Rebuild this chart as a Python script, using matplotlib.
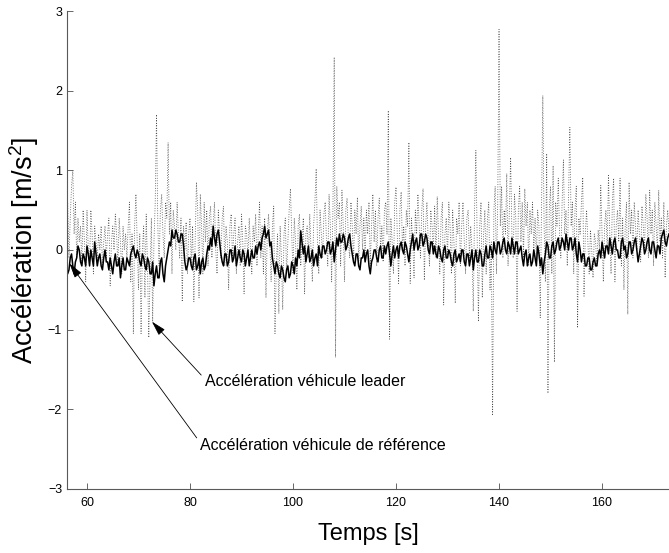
import numpy as np
import matplotlib.pyplot as plt

plt.rcParams['font.family'] = ['Liberation Sans', 'DejaVu Sans']
plt.rcParams['mathtext.fontset'] = 'custom'
plt.rcParams['mathtext.rm'] = 'Liberation Sans'
plt.rcParams['mathtext.it'] = 'Liberation Sans'

# leader acceleration, sampled every 0.25 s from 56 s to 173 s
t_leader_start, t_leader_step = 56.0, 0.25
acc_leader = [
    0.3, 0.6, -0.1, 0.4, 0.8, 1.0, 0.2, 0.6,
    -0.1, 0.4, 0.1, 0.3, -0.2, 0.5, 0.1, -0.4,
    0.5, 0.0, -0.2, 0.5, 0.2, -0.3, 0.3, 0.1,
    -0.1, 0.2, 0.0, 0.3, -0.2, 0.1, 0.3, -0.1,
    0.2, 0.4, -0.45, 0.1, 0.3, 0.0, 0.45, 0.2,
    -0.2, 0.4, 0.1, -0.3, 0.3, 0.0, 0.2, -0.1,
    0.3, 0.6, -0.4, 0.2, -1.05, 0.3, 0.7, 0.1,
    -0.5, 0.2, -1.05, 0.0, 0.3, -0.6, 0.45, -0.2,
    -1.1, -0.3, 0.4, -0.9, 0.1, 0.6, 1.7, 0.3,
    -0.2, 0.5, 0.7, 0.2, -0.1, 0.6, 0.4, 1.35,
    0.2, 0.6, -0.3, 0.5, 0.3, 0.0, 0.6, 0.2,
    -0.1, 0.4, -0.65, 0.3, 0.0, 0.35, -0.3, 0.2,
    0.4, -0.2, 0.3, -0.65, 0.1, 0.85, 0.5, -0.6,
    0.7, 0.3, -0.3, 0.6, 0.1, 0.5, -0.2, 0.4,
    0.55, -0.1, 0.3, 0.6, 0.0, -0.3, 0.5, 0.2,
    -0.1, 0.4, 0.55, -0.2, 0.3, 0.1, -0.5, 0.3,
    0.45, -0.1, 0.2, 0.4, -0.3, 0.1, 0.3, -0.2,
    0.45, 0.1, -0.55, 0.3, 0.2, -0.1, 0.4, 0.0,
    -0.3, 0.3, 0.1, 0.45, -0.2, 0.2, 0.6, -0.1,
    0.3, -0.3, 0.4, -0.6, 0.2, 0.45, 0.1, -0.4,
    0.3, 0.55, -1.05, -0.2, 0.2, -0.8, 0.3, -0.1,
    -0.75, 0.2, 0.4, -0.3, 0.1, 0.5, 0.77, 0.2,
    -0.3, 0.4, 0.1, -0.5, 0.3, 0.45, -0.2, 0.1,
    0.4, -0.55, 0.2, 0.3, -0.1, 0.45, 0.0, -0.4,
    0.3, 0.6, 1.02, 0.1, -0.3, 0.5, 0.2, -0.1,
    0.45, 0.6, 0.1, -0.2, 0.7, 0.3, -0.4, 0.5,
    2.42, -1.35, 0.8, 0.4, 0.6, -0.2, 0.75, 0.3,
    -0.4, 0.5, 0.65, 0.1, -0.1, 0.6, 0.3, -0.15,
    0.5, 0.2, 0.66, -0.17, 0.3, 0.55, 0.0, 0.4,
    -0.1, 0.5, 0.2, 0.6, -0.2, 0.3, 0.7, 0.1,
    0.5, -0.2, 0.4, 0.65, 0.0, 0.3, -0.15, 0.5,
    0.6, 0.2, 1.75, -1.12, 0.4, 0.1, -0.3, 0.6,
    0.79, 0.2, -0.42, 0.5, 0.73, 0.0, 0.3, -0.2,
    0.5, 0.3, 1.35, -0.42, 0.4, 0.1, -0.35, 0.5,
    0.2, 0.7, 0.3, -0.1, 0.5, 0.77, -0.38, 0.3,
    0.6, 0.1, -0.2, 0.5, 0.3, 0.0, 0.55, -0.1,
    0.67, 0.2, -0.3, 0.4, 0.6, -0.69, 0.2, 0.4,
    -0.1, 0.6, 0.3, -0.3, 0.5, 0.1, -0.67, 0.4,
    0.2, 0.6, -0.2, 0.3, 0.6, 0.1, -0.3, 0.4,
    0.5, -0.1, 0.3, 0.0, -0.77, 0.5, 1.25, 0.2,
    -0.9, 0.3, 0.6, -0.6, 0.2, 0.5, -0.3, 0.4,
    0.6, -0.5, 0.1, -2.08, 0.5, 0.8, -0.3, 0.6,
    2.77, 0.3, 0.8, -0.1, 0.5, 0.2, 0.96, -0.2,
    0.5, 1.16, 0.2, -0.1, 0.7, 0.4, -0.77, 0.5,
    0.8, 0.1, 0.6, -0.1, 0.77, 0.3, 0.6, -0.2,
    0.5, 0.2, 0.6, 0.0, 0.4, -0.1, 0.5, 0.3,
    -0.85, 0.5, 1.94, 0.3, -0.4, 1.21, -1.8, 0.5,
    0.8, -0.3, 1.06, -1.41, 0.6, 0.3, 0.9, 0.2,
    -0.1, 0.6, 1.13, 0.2, 0.5, -0.2, 0.7, 1.54,
    0.3, 0.6, -0.3, 0.5, 0.8, -0.98, 0.4, 0.2,
    0.6, 0.91, -0.58, 0.2, 0.5, 0.1, -0.3, 0.25,
    0.0, -0.35, 0.2, 0.1, -0.2, 0.25, 0.0, 0.81,
    0.2, -0.4, 0.3, 0.5, 0.0, 0.95, 0.2, -0.3,
    0.6, 0.9, -0.4, 0.3, 0.5, 0.1, 0.9, -0.2,
    0.4, -0.5, 0.3, 0.6, -0.81, 0.85, 0.2, 0.5,
    -0.1, 0.6, 0.3, 0.0, 0.5, 0.2, -0.15, 0.55,
    0.3, 0.0, 0.7, 0.4, -0.1, 0.75, 0.2, 0.5,
    -0.2, 0.6, 0.3, 0.0, 0.75, 0.1, 0.4, -0.1,
    0.6, -0.35, 0.3, 0.5, 0.2,
]

# reference vehicle acceleration, sampled every 0.25 s from 56 s to 173 s
t_ref_start, t_ref_step = 56.0, 0.25
acc_ref = [
    -0.15, -0.3, -0.25, -0.1, -0.05, -0.2, -0.3, -0.15,
    -0.1, 0.05, 0.0, -0.15, -0.2, -0.05, -0.1, -0.2,
    0.05, -0.05, -0.2, 0.0, -0.1, -0.2, 0.1, -0.05,
    -0.2, -0.1, -0.05, -0.2, -0.25, -0.1, 0.0, -0.15,
    -0.15, -0.25, -0.1, -0.2, -0.3, -0.15, -0.05, -0.2,
    -0.2, -0.1, -0.35, -0.2, -0.1, -0.25, -0.25, -0.1,
    -0.15, -0.2, -0.05, 0.0, 0.05, -0.05, -0.1, 0.0,
    -0.05, -0.15, -0.2, -0.05, -0.1, -0.2, -0.25, -0.1,
    -0.15, -0.3, -0.3, -0.15, -0.45, -0.3, -0.2, -0.35,
    -0.35, -0.15, -0.1, -0.3, -0.4, -0.2, -0.1, 0.0,
    0.1, 0.05, 0.25, 0.15, 0.15, 0.25, 0.2, 0.1,
    0.1, 0.2, 0.2, 0.05, -0.15, -0.25, -0.2, -0.1,
    -0.1, -0.2, -0.25, -0.1, -0.05, -0.25, -0.2, -0.1,
    -0.3, -0.15, -0.1, -0.25, -0.2, -0.05, 0.05, 0.0,
    0.15, 0.05, 0.3, 0.15, 0.05, 0.2, 0.25, 0.1,
    -0.05, -0.15, -0.2, -0.05, -0.05, -0.2, -0.15, 0.0,
    0.0, -0.15, -0.1, 0.05, -0.2, -0.1, 0.0, -0.1,
    -0.15, 0.0, -0.05, -0.2, -0.1, 0.0, -0.2, -0.1,
    0.0, -0.1, -0.1, 0.05, -0.05, 0.05, 0.1, 0.0,
    0.15, 0.2, 0.3, 0.15, 0.2, 0.25, 0.05, 0.1,
    -0.1, -0.2, -0.3, -0.15, -0.2, -0.3, -0.35, -0.2,
    -0.25, -0.35, -0.4, -0.25, -0.2, -0.35, -0.3, -0.15,
    -0.2, -0.3, -0.1, -0.2, 0.0, -0.1, 0.24, 0.1,
    -0.05, 0.05, -0.15, -0.05, 0.05, -0.15, -0.1, 0.0,
    -0.2, -0.1, -0.05, -0.2, 0.05, -0.05, -0.1, 0.05,
    0.05, -0.05, 0.0, 0.1, 0.1, -0.05, 0.0, 0.1,
    -0.15, 0.0, 0.15, 0.05, 0.2, 0.1, 0.1, 0.2,
    0.15, 0.0, 0.05, 0.15, 0.2, 0.05, -0.05, -0.15,
    -0.2, -0.05, -0.05, -0.2, -0.25, -0.1, -0.1, 0.0,
    -0.15, -0.05, 0.0, -0.2, -0.3, -0.15, -0.1, 0.0,
    0.0, -0.1, -0.15, 0.0, 0.05, -0.1, -0.1, 0.05,
    -0.05, 0.05, 0.1, -0.05, -0.2, -0.05, 0.05, -0.1,
    0.0, 0.05, -0.1, 0.05, 0.1, 0.0, -0.05, 0.1,
    0.05, -0.05, -0.15, 0.0, 0.1, 0.2, 0.0, 0.1,
    0.15, 0.0, 0.05, 0.2, 0.2, 0.05, 0.1, 0.2,
    0.15, 0.0, -0.05, 0.1, 0.1, -0.05, 0.05, -0.05,
    -0.1, 0.05, 0.0, -0.1, -0.15, 0.0, 0.05, -0.1,
    -0.1, 0.0, -0.05, -0.15, -0.2, -0.05, 0.0, -0.15,
    -0.1, -0.05, -0.15, 0.0, 0.0, -0.15, -0.2, -0.05,
    -0.05, -0.2, -0.1, 0.0, -0.25, -0.1, 0.0, -0.15,
    -0.15, 0.0, -0.05, -0.2, -0.2, -0.05, 0.05, -0.1,
    -0.1, 0.05, 0.0, -0.1, 0.1, 0.0, -0.05, 0.1,
    0.1, -0.05, 0.0, 0.1, 0.15, 0.0, -0.05, 0.1,
    0.05, -0.05, 0.15, 0.05, -0.05, 0.1, 0.1, -0.05,
    0.0, 0.05, -0.1, -0.2, -0.05, 0.0, -0.2, -0.1,
    -0.05, -0.2, -0.15, 0.0, -0.1, -0.2, 0.05, -0.05,
    -0.2, -0.1, -0.3, -0.15, -0.05, 0.1, 0.05, -0.1,
    -0.1, 0.05, 0.1, -0.05, 0.0, 0.1, 0.15, 0.0,
    0.05, 0.15, 0.1, 0.0, 0.2, 0.1, 0.0, 0.15,
    0.15, 0.0, 0.05, 0.15, -0.05, -0.15, 0.1, 0.0,
    -0.15, -0.05, -0.05, -0.2, -0.2, -0.1, -0.1, -0.25,
    -0.25, -0.15, -0.1, -0.2, -0.2, -0.05, 0.0, -0.1,
    0.1, 0.0, -0.1, 0.05, 0.05, -0.05, 0.15, 0.05,
    -0.05, 0.1, 0.15, 0.0, 0.0, -0.1, -0.1, 0.1,
    0.15, 0.0, 0.05, -0.1, -0.05, 0.1, 0.1, -0.05,
    0.0, 0.1, 0.15, 0.0, -0.15, -0.05, 0.05, 0.15,
    0.1, -0.05, 0.0, 0.1, 0.15, 0.0, -0.05, 0.1,
    0.1, 0.0, -0.1, 0.05, 0.05, -0.05, 0.15, 0.2,
    0.25, 0.1, 0.05, 0.15, 0.2,
]

xticks = [60, 80, 100, 120, 140, 160]
yticks = [-3, -2, -1, 0, 1, 2, 3]

t_leader = t_leader_start + t_leader_step * np.arange(len(acc_leader))
t_ref = t_ref_start + t_ref_step * np.arange(len(acc_ref))

fig = plt.figure(figsize=(6.69, 5.53), dpi=100)
ax = fig.add_axes([0.100, 0.116, 0.90, 0.864])

ax.plot(t_leader, acc_leader, color='0.3', lw=0.6, linestyle=(0, (1, 2)))
ax.plot(t_ref, acc_ref, color='black', lw=1.1)

ax.set_xlim(56.1, 173)
ax.set_ylim(-3, 3)
ax.set_xticks(xticks)
ax.set_yticks(yticks)
ax.tick_params(direction='in', length=4, width=0.6, labelsize=9, colors='0.3',
               labelcolor='black')
ax.tick_params(axis='x', pad=6)
for side in ['top', 'right']:
    ax.spines[side].set_visible(False)
for side in ['left', 'bottom']:
    ax.spines[side].set_color('0.35')
    ax.spines[side].set_linewidth(0.8)

ax.set_xlabel('Temps [s]', fontsize=17, labelpad=10)
ax.set_ylabel('Accélération [m/s$^2$]', fontsize=19.5, labelpad=5)

arrow = dict(arrowstyle='-|>,head_length=0.9,head_width=0.25', color='black',
             lw=0.6, mutation_scale=10, shrinkA=1, shrinkB=0, relpos=(0, 0.65))
ax.annotate('Accélération véhicule leader', xy=(72.6, -0.9), xytext=(82.9, -1.65),
            fontsize=11.5, ha='left', va='center', arrowprops=arrow)
ax.annotate('Accélération véhicule de référence', xy=(56.6, -0.17), xytext=(82.0, -2.45),
            fontsize=11.5, ha='left', va='center', arrowprops=arrow)

fig.savefig('out.png', dpi=100)
